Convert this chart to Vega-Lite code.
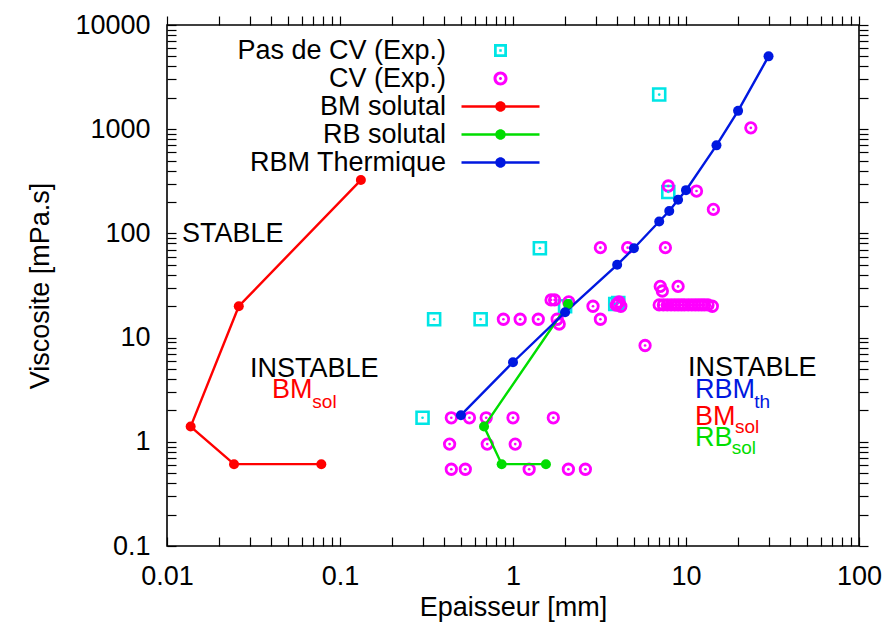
{
  "$schema": "https://vega.github.io/schema/vega-lite/v6.json",
  "width": 692,
  "height": 521,
  "autosize": "none",
  "padding": {"left": 167, "top": 25, "right": 28, "bottom": 82},
  "config": {
    "font": "Liberation Sans",
    "view": {"stroke": "#000", "strokeWidth": 1.6},
    "axis": {"labelFontSize": 27, "titleFontSize": 27, "titleFontWeight": "normal", "labelColor": "#000", "titleColor": "#000", "tickColor": "#000", "tickWidth": 1.2, "grid": false, "domain": false, "labelFlush": false, "labelOverlap": false, "labelBound": false},
    "legend": {"symbolOpacity": 1, "symbolStrokeWidth": 0, "symbolSize": 100}
  },
  "datasets": {
    "exp": [
      {"s": "Pas de CV (Exp.)", "x": 0.35, "y": 15},
      {"s": "Pas de CV (Exp.)", "x": 0.65, "y": 15},
      {"s": "Pas de CV (Exp.)", "x": 0.3, "y": 1.7},
      {"s": "Pas de CV (Exp.)", "x": 1.43, "y": 72},
      {"s": "Pas de CV (Exp.)", "x": 7.0, "y": 2150},
      {"s": "Pas de CV (Exp.)", "x": 7.9, "y": 250},
      {"s": "Pas de CV (Exp.)", "x": 3.9, "y": 21},
      {"s": "Pas de CV (Exp.)", "x": 4.06, "y": 21.5},
      {"s": "Pas de CV (Exp.)", "x": 2.0, "y": 20},
      {"s": "CV (Exp.)", "x": 1.66, "y": 23},
      {"s": "CV (Exp.)", "x": 1.74, "y": 23},
      {"s": "CV (Exp.)", "x": 2.1, "y": 22},
      {"s": "CV (Exp.)", "x": 0.88, "y": 15},
      {"s": "CV (Exp.)", "x": 1.1, "y": 15},
      {"s": "CV (Exp.)", "x": 1.4, "y": 15},
      {"s": "CV (Exp.)", "x": 1.8, "y": 15},
      {"s": "CV (Exp.)", "x": 1.85, "y": 13.5},
      {"s": "CV (Exp.)", "x": 2.9, "y": 20},
      {"s": "CV (Exp.)", "x": 3.2, "y": 15},
      {"s": "CV (Exp.)", "x": 3.95, "y": 20.5},
      {"s": "CV (Exp.)", "x": 4.0, "y": 21},
      {"s": "CV (Exp.)", "x": 4.1, "y": 22},
      {"s": "CV (Exp.)", "x": 4.2, "y": 20},
      {"s": "CV (Exp.)", "x": 5.8, "y": 8.4},
      {"s": "CV (Exp.)", "x": 23.7, "y": 1030},
      {"s": "CV (Exp.)", "x": 7.9, "y": 285},
      {"s": "CV (Exp.)", "x": 11.5, "y": 255},
      {"s": "CV (Exp.)", "x": 14.4, "y": 170},
      {"s": "CV (Exp.)", "x": 3.2, "y": 73},
      {"s": "CV (Exp.)", "x": 4.6, "y": 73},
      {"s": "CV (Exp.)", "x": 7.6, "y": 73},
      {"s": "CV (Exp.)", "x": 7.1, "y": 31},
      {"s": "CV (Exp.)", "x": 7.3, "y": 28},
      {"s": "CV (Exp.)", "x": 9.0, "y": 31},
      {"s": "CV (Exp.)", "x": 7.0, "y": 20.6},
      {"s": "CV (Exp.)", "x": 7.4, "y": 20.6},
      {"s": "CV (Exp.)", "x": 7.8, "y": 20.6},
      {"s": "CV (Exp.)", "x": 8.2, "y": 20.6},
      {"s": "CV (Exp.)", "x": 8.6, "y": 20.6},
      {"s": "CV (Exp.)", "x": 9.0, "y": 20.6},
      {"s": "CV (Exp.)", "x": 9.4, "y": 20.6},
      {"s": "CV (Exp.)", "x": 9.8, "y": 20.6},
      {"s": "CV (Exp.)", "x": 10.3, "y": 20.6},
      {"s": "CV (Exp.)", "x": 10.8, "y": 20.6},
      {"s": "CV (Exp.)", "x": 11.3, "y": 20.6},
      {"s": "CV (Exp.)", "x": 11.8, "y": 20.6},
      {"s": "CV (Exp.)", "x": 12.3, "y": 20.6},
      {"s": "CV (Exp.)", "x": 12.8, "y": 20.6},
      {"s": "CV (Exp.)", "x": 13.4, "y": 20.6},
      {"s": "CV (Exp.)", "x": 14.2, "y": 20},
      {"s": "CV (Exp.)", "x": 0.44, "y": 1.7},
      {"s": "CV (Exp.)", "x": 0.56, "y": 1.7},
      {"s": "CV (Exp.)", "x": 0.7, "y": 1.7},
      {"s": "CV (Exp.)", "x": 1.0, "y": 1.7},
      {"s": "CV (Exp.)", "x": 1.71, "y": 1.7},
      {"s": "CV (Exp.)", "x": 0.43, "y": 0.95},
      {"s": "CV (Exp.)", "x": 0.71, "y": 0.95},
      {"s": "CV (Exp.)", "x": 1.03, "y": 0.95},
      {"s": "CV (Exp.)", "x": 0.44, "y": 0.545},
      {"s": "CV (Exp.)", "x": 0.53, "y": 0.545},
      {"s": "CV (Exp.)", "x": 1.24, "y": 0.545},
      {"s": "CV (Exp.)", "x": 2.09, "y": 0.545},
      {"s": "CV (Exp.)", "x": 2.62, "y": 0.545}
    ],
    "lines": [
      {"s": "BM solutal", "o": 1, "x": 0.132, "y": 325},
      {"s": "BM solutal", "o": 2, "x": 0.026, "y": 20},
      {"s": "BM solutal", "o": 3, "x": 0.0137, "y": 1.4},
      {"s": "BM solutal", "o": 4, "x": 0.0244, "y": 0.61},
      {"s": "BM solutal", "o": 5, "x": 0.078, "y": 0.61},
      {"s": "RB solutal", "o": 1, "x": 2.08, "y": 21},
      {"s": "RB solutal", "o": 2, "x": 0.68, "y": 1.4},
      {"s": "RB solutal", "o": 3, "x": 0.86, "y": 0.61},
      {"s": "RB solutal", "o": 4, "x": 1.55, "y": 0.61},
      {"s": "RBM Thermique", "o": 1, "x": 0.5, "y": 1.8},
      {"s": "RBM Thermique", "o": 2, "x": 1.0, "y": 5.8},
      {"s": "RBM Thermique", "o": 3, "x": 2.0, "y": 17.5},
      {"s": "RBM Thermique", "o": 4, "x": 4.0, "y": 50},
      {"s": "RBM Thermique", "o": 5, "x": 5.0, "y": 72},
      {"s": "RBM Thermique", "o": 6, "x": 7.0, "y": 130},
      {"s": "RBM Thermique", "o": 7, "x": 8.0, "y": 164},
      {"s": "RBM Thermique", "o": 8, "x": 9.0, "y": 210},
      {"s": "RBM Thermique", "o": 9, "x": 10, "y": 260},
      {"s": "RBM Thermique", "o": 10, "x": 15, "y": 700},
      {"s": "RBM Thermique", "o": 11, "x": 20, "y": 1500},
      {"s": "RBM Thermique", "o": 12, "x": 30, "y": 5000}
    ],
    "notes": [
      {"t": "STABLE", "k": "plain", "r": "main", "x": 0.0122, "y": 98},
      {"t": "INSTABLE", "k": "plain", "r": "main", "x": 0.0302, "y": 5.0},
      {"t": "BM", "k": "BM solutal", "r": "main", "x": 0.0405, "y": 3.14},
      {"t": "sol", "k": "BM solutal", "r": "sub", "x": 0.0692, "y": 2.43},
      {"t": "INSTABLE", "k": "plain", "r": "main", "x": 10.27, "y": 5.1},
      {"t": "RBM", "k": "RBM Thermique", "r": "main", "x": 11.27, "y": 3.14},
      {"t": "th", "k": "RBM Thermique", "r": "sub", "x": 24.8, "y": 2.43},
      {"t": "BM", "k": "BM solutal", "r": "main", "x": 11.27, "y": 1.74},
      {"t": "sol", "k": "BM solutal", "r": "sub", "x": 19.2, "y": 1.40},
      {"t": "RB", "k": "RB solutal", "r": "main", "x": 11.27, "y": 1.08},
      {"t": "sol", "k": "RB solutal", "r": "sub", "x": 18.37, "y": 0.866}
    ]
  },
  "layer": [
    {
      "layer": [
        {
          "data": {"name": "exp"},
          "mark": {"type": "point", "filled": true, "opacity": 0},
          "encoding": {
            "x": {"field": "x", "type": "quantitative", "scale": {"type": "log", "domain": [0.01, 100], "nice": false},
              "axis": {"title": "Epaisseur [mm]", "values": [0.01,0.02,0.03,0.04,0.05,0.06,0.07,0.08,0.09,0.1,0.2,0.3,0.4,0.5,0.6,0.7,0.8,0.9,1,2,3,4,5,6,7,8,9,10,20,30,40,50,60,70,80,90,100],
                "format": "~g", "labelExpr": "indexof([0.01,0.1,1,10,100], datum.value) >= 0 ? datum.label : ''",
                "tickSize": -9, "labelPadding": 26, "titlePadding": 5,
                "encode": {"ticks": {"update": {"y2": {"signal": "indexof([0.01,0.1,1,10,100], datum.value) >= 0 ? -9 : -5"}}}}}},
            "y": {"field": "y", "type": "quantitative", "scale": {"type": "log", "domain": [0.1, 10000], "nice": false},
              "axis": {"title": "Viscosite [mPa.s]", "values": [0.1,0.2,0.3,0.4,0.5,0.6,0.7,0.8,0.9,1,2,3,4,5,6,7,8,9,10,20,30,40,50,60,70,80,90,100,200,300,400,500,600,700,800,900,1000,2000,3000,4000,5000,6000,7000,8000,9000,10000],
                "format": "~g", "labelExpr": "indexof([0.1,1,10,100,1000,10000], datum.value) >= 0 ? datum.label : ''",
                "tickSize": -9, "labelPadding": 26, "titlePadding": 20,
                "encode": {"ticks": {"update": {"x2": {"signal": "indexof([0.1,1,10,100,1000,10000], datum.value) >= 0 ? 9 : 5"}}}}}},
            "color": {"field": "s", "type": "nominal",
              "scale": {"domain": ["Pas de CV (Exp.)", "CV (Exp.)", "BM solutal", "RB solutal", "RBM Thermique"], "range": ["#00e5e5", "#ff00ff", "#ff0000", "#00dd00", "#0018e0"]},
              "legend": {"orient": "none", "legendX": 320, "legendY": 12, "title": null, "labelFontSize": 27, "labelColor": "#000", "labelLimit": 500, "symbolSize": 100, "symbolOpacity": 1, "symbolStrokeWidth": 0, "rowPadding": 0, "padding": 0, "labelAlign": "right", "labelOffset": -68}},
            "shape": {"field": "s", "type": "nominal",
              "scale": {"domain": ["Pas de CV (Exp.)", "CV (Exp.)", "BM solutal", "RB solutal", "RBM Thermique"],
                "range": [
                  "M-1.3,-1.3H1.3V1.3H-1.3Z M-0.75,-0.75V0.75H0.75V-0.75Z M-0.25,-0.25H0.25V0.25H-0.25Z",
                  "M1.4,0A1.4,1.4 0 1,1 -1.4,0A1.4,1.4 0 1,1 1.4,0Z M0.8,0A0.8,0.8 0 1,0 -0.8,0A0.8,0.8 0 1,0 0.8,0Z M0.3,0A0.3,0.3 0 1,1 -0.3,0A0.3,0.3 0 1,1 0.3,0Z",
                  "M-7.8,-0.25H7.8V0.25H-7.8Z M1.05,0A1.05,1.05 0 1,1 -1.05,0A1.05,1.05 0 1,1 1.05,0Z",
                  "M-7.8,-0.25H7.8V0.25H-7.8Z M1.05,0A1.05,1.05 0 1,1 -1.05,0A1.05,1.05 0 1,1 1.05,0Z",
                  "M-7.8,-0.25H7.8V0.25H-7.8Z M1.05,0A1.05,1.05 0 1,1 -1.05,0A1.05,1.05 0 1,1 1.05,0Z"]},
              "legend": {"orient": "none", "legendX": 320, "legendY": 12, "title": null, "labelFontSize": 27, "labelColor": "#000", "labelLimit": 500, "symbolSize": 100, "symbolOpacity": 1, "symbolStrokeWidth": 0, "rowPadding": 0, "padding": 0, "labelAlign": "right", "labelOffset": -68}}
          }
        },
        {
          "data": {"name": "exp"},
          "transform": [{"filter": "datum.s === 'Pas de CV (Exp.)'"}],
          "mark": {"type": "point", "shape": "square", "filled": false, "strokeWidth": 2.6, "size": 144, "opacity": 1},
          "encoding": {
            "x": {"field": "x", "type": "quantitative", "scale": {"type": "log", "domain": [0.01, 100], "nice": false}},
            "y": {"field": "y", "type": "quantitative", "scale": {"type": "log", "domain": [0.1, 10000], "nice": false}},
            "color": {"field": "s", "type": "nominal", "legend": null, "scale": {"domain": ["Pas de CV (Exp.)", "CV (Exp.)", "BM solutal", "RB solutal", "RBM Thermique"], "range": ["#00e5e5", "#ff00ff", "#ff0000", "#00dd00", "#0018e0"]}}
          }
        },
        {
          "data": {"name": "exp"},
          "transform": [{"filter": "datum.s === 'CV (Exp.)'"}],
          "mark": {"type": "point", "shape": "circle", "filled": false, "strokeWidth": 2.8, "size": 110, "opacity": 1},
          "encoding": {
            "x": {"field": "x", "type": "quantitative", "scale": {"type": "log", "domain": [0.01, 100], "nice": false}},
            "y": {"field": "y", "type": "quantitative", "scale": {"type": "log", "domain": [0.1, 10000], "nice": false}},
            "color": {"field": "s", "type": "nominal", "legend": null, "scale": {"domain": ["Pas de CV (Exp.)", "CV (Exp.)", "BM solutal", "RB solutal", "RBM Thermique"], "range": ["#00e5e5", "#ff00ff", "#ff0000", "#00dd00", "#0018e0"]}}
          }
        },
        {
          "data": {"name": "exp"},
          "mark": {"type": "point", "shape": "circle", "filled": true, "size": 7, "opacity": 1},
          "encoding": {
            "x": {"field": "x", "type": "quantitative", "scale": {"type": "log", "domain": [0.01, 100], "nice": false}},
            "y": {"field": "y", "type": "quantitative", "scale": {"type": "log", "domain": [0.1, 10000], "nice": false}},
            "color": {"field": "s", "type": "nominal", "legend": null, "scale": {"domain": ["Pas de CV (Exp.)", "CV (Exp.)", "BM solutal", "RB solutal", "RBM Thermique"], "range": ["#00e5e5", "#ff00ff", "#ff0000", "#00dd00", "#0018e0"]}}
          }
        },
        {
          "data": {"name": "lines"},
          "mark": {"type": "line", "strokeWidth": 2.4},
          "encoding": {
            "x": {"field": "x", "type": "quantitative", "scale": {"type": "log", "domain": [0.01, 100], "nice": false}},
            "y": {"field": "y", "type": "quantitative", "scale": {"type": "log", "domain": [0.1, 10000], "nice": false}},
            "color": {"field": "s", "type": "nominal", "legend": null, "scale": {"domain": ["Pas de CV (Exp.)", "CV (Exp.)", "BM solutal", "RB solutal", "RBM Thermique"], "range": ["#00e5e5", "#ff00ff", "#ff0000", "#00dd00", "#0018e0"]}},
            "order": {"field": "o", "type": "quantitative"}
          }
        },
        {
          "data": {"name": "lines"},
          "mark": {"type": "point", "shape": "circle", "filled": true, "size": 100, "opacity": 1},
          "encoding": {
            "x": {"field": "x", "type": "quantitative", "scale": {"type": "log", "domain": [0.01, 100], "nice": false}},
            "y": {"field": "y", "type": "quantitative", "scale": {"type": "log", "domain": [0.1, 10000], "nice": false}},
            "color": {"field": "s", "type": "nominal", "legend": null, "scale": {"domain": ["Pas de CV (Exp.)", "CV (Exp.)", "BM solutal", "RB solutal", "RBM Thermique"], "range": ["#00e5e5", "#ff00ff", "#ff0000", "#00dd00", "#0018e0"]}}
          }
        },
        {
          "data": {"name": "notes"},
          "transform": [{"filter": "datum.k === 'plain'"}],
          "mark": {"type": "text", "align": "left", "baseline": "middle", "color": "#000"},
          "encoding": {
            "x": {"field": "x", "type": "quantitative", "scale": {"type": "log", "domain": [0.01, 100], "nice": false}},
            "y": {"field": "y", "type": "quantitative", "scale": {"type": "log", "domain": [0.1, 10000], "nice": false}},
            "text": {"field": "t"},
            "size": {"field": "r", "type": "ordinal", "scale": {"domain": ["main", "sub"], "range": [27, 19]}, "legend": null}
          }
        },
        {
          "data": {"name": "notes"},
          "transform": [{"filter": "datum.k !== 'plain'"}],
          "mark": {"type": "text", "align": "left", "baseline": "middle"},
          "encoding": {
            "x": {"field": "x", "type": "quantitative", "scale": {"type": "log", "domain": [0.01, 100], "nice": false}},
            "y": {"field": "y", "type": "quantitative", "scale": {"type": "log", "domain": [0.1, 10000], "nice": false}},
            "text": {"field": "t"},
            "color": {"field": "k", "type": "nominal", "legend": null, "scale": {"domain": ["Pas de CV (Exp.)", "CV (Exp.)", "BM solutal", "RB solutal", "RBM Thermique"], "range": ["#00e5e5", "#ff00ff", "#ff0000", "#00dd00", "#0018e0"]}},
            "size": {"field": "r", "type": "ordinal", "scale": {"domain": ["main", "sub"], "range": [27, 19]}, "legend": null}
          }
        }
      ]
    },
    {
      "data": {"name": "exp"},
      "mark": {"type": "point", "opacity": 0},
      "encoding": {
        "x": {"field": "x", "type": "quantitative", "scale": {"type": "log", "domain": [0.01, 100], "nice": false},
          "axis": {"orient": "top", "title": null, "labels": false, "values": [0.01,0.02,0.03,0.04,0.05,0.06,0.07,0.08,0.09,0.1,0.2,0.3,0.4,0.5,0.6,0.7,0.8,0.9,1,2,3,4,5,6,7,8,9,10,20,30,40,50,60,70,80,90,100],
            "tickSize": 9, "encode": {"ticks": {"update": {"y2": {"signal": "indexof([0.01,0.1,1,10,100], datum.value) >= 0 ? 9 : 5"}}}}}},
        "y": {"field": "y", "type": "quantitative", "scale": {"type": "log", "domain": [0.1, 10000], "nice": false},
          "axis": {"orient": "right", "title": null, "labels": false, "values": [0.1,0.2,0.3,0.4,0.5,0.6,0.7,0.8,0.9,1,2,3,4,5,6,7,8,9,10,20,30,40,50,60,70,80,90,100,200,300,400,500,600,700,800,900,1000,2000,3000,4000,5000,6000,7000,8000,9000,10000],
            "tickSize": 9, "encode": {"ticks": {"update": {"x2": {"signal": "indexof([0.1,1,10,100,1000,10000], datum.value) >= 0 ? -9 : -5"}}}}}}
      }
    }
  ],
  "resolve": {"axis": {"x": "independent", "y": "independent"}}
}
